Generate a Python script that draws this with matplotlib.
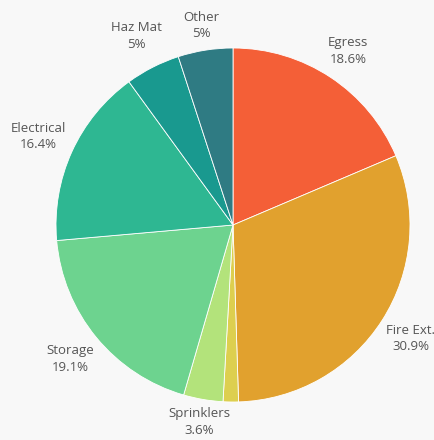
import matplotlib.pyplot as plt

# slice data, clockwise from the top
names = ['Egress', 'Fire Ext.', '', 'Sprinklers', 'Storage', 'Electrical', 'Haz Mat', 'Other']
values = [18.6, 30.9, 1.4, 3.6, 19.1, 16.4, 5, 5]
pct_text = ['18.6%', '30.9%', '', '3.6%', '19.1%', '16.4%', '5%', '5%']
colors = ['#F45F37', '#E1A12E', '#DDCF4F', '#B3E37B', '#6DD38F', '#2EB792', '#19998F', '#2F7B83']
# how far out each label sits (in pie radii)
label_dist = [1.18, 1.19, 1.18, 1.13, 1.19, 1.21, 1.2, 1.14]

plt.rcParams['font.family'] = ['Open Sans', 'DejaVu Sans']

fig = plt.figure(figsize=(4.35, 4.4), dpi=100, facecolor='#F8F8F8')
cx, cy, r = 233, 225, 177
ax = fig.add_axes([(cx - r) / 435, (440 - cy - r) / 440, 2 * r / 435, 2 * r / 440])
ax.set_facecolor('#F8F8F8')

wedges, _ = ax.pie(values, colors=colors, startangle=90, counterclock=False, radius=1,
                   wedgeprops=dict(edgecolor='white', linewidth=0.6))

import numpy as np
for w, n, p, d in zip(wedges, names, pct_text, label_dist):
    if not n:
        continue
    mid = np.deg2rad((w.theta1 + w.theta2) / 2)
    ax.text(d * np.cos(mid), d * np.sin(mid), n + '\n' + p, ha='center', va='center',
            fontsize=9.5, color='#555555', linespacing=1.35)

ax.set_xlim(-1, 1)
ax.set_ylim(-1, 1)
ax.set_aspect('equal')
fig.savefig('out.png', dpi=100, facecolor=fig.get_facecolor())
